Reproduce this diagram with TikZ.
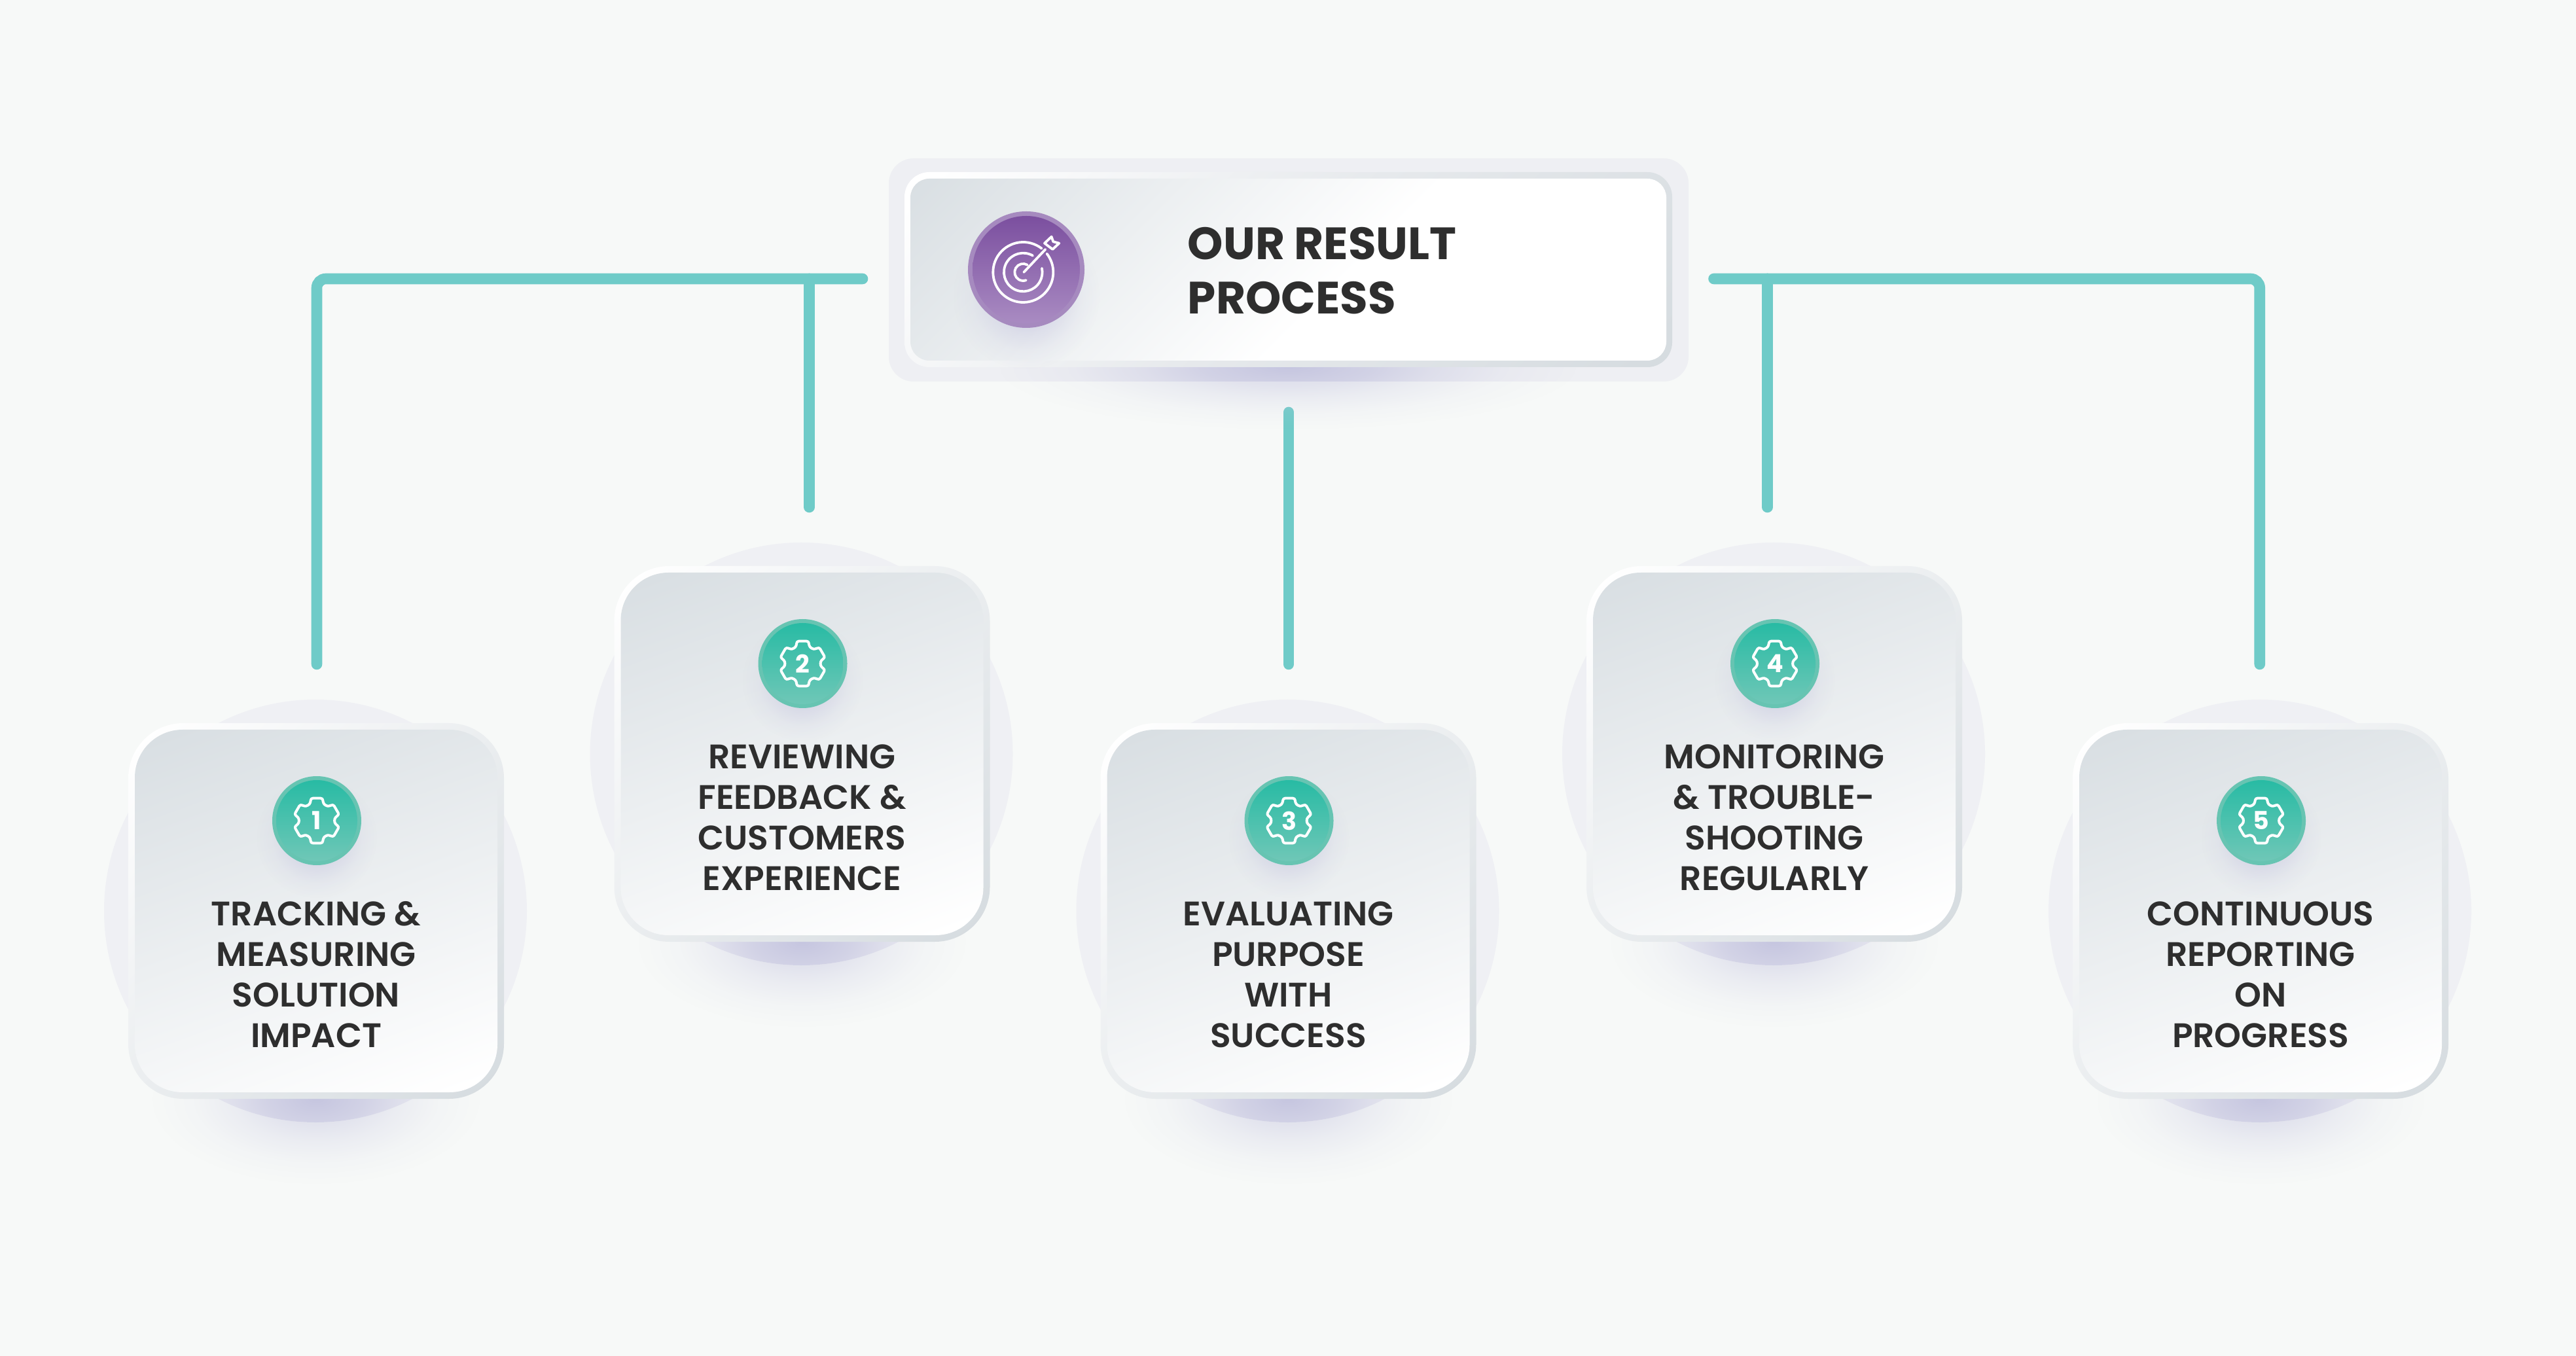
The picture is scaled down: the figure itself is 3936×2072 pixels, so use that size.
\documentclass[tikz,border=0pt]{standalone}
\usepackage{fontspec}
\usetikzlibrary{fadings}
\newfontfamily\cardfont{Poppins SemiBold}
\newfontfamily\titlefont{Poppins}[BoldFont=Poppins Bold]
\definecolor{bgc}{HTML}{F7F9F8}
\definecolor{diskc}{HTML}{EFF0F4}
\definecolor{shadowc}{HTML}{C6C6E0}
\definecolor{linec}{HTML}{6FCBC8}
\definecolor{txtc}{HTML}{2E2E2E}
\definecolor{panelc}{HTML}{EEEFF3}
\definecolor{rimteal}{HTML}{67C4B2}
\definecolor{rimpurple}{HTML}{A68ABF}
\definecolor{facelo}{HTML}{FFFFFF}
\definecolor{facehi}{HTML}{D9DFE3}
\definecolor{rimlo}{HTML}{D6DCE0}
\definecolor{rimhi}{HTML}{FFFFFF}
\definecolor{rimmid}{HTML}{E6E9EC}
\definecolor{teal1}{HTML}{28BBA4}
\definecolor{teal2}{HTML}{6FC7B7}
\definecolor{purp1}{HTML}{7B4F9F}
\definecolor{purp2}{HTML}{A98BC2}
\pgfdeclareradialshading{softradial}{\pgfpointorigin}{color(0bp)=(white); color(7.5bp)=(white!70!black); color(12.5bp)=(white!40!black); color(18.75bp)=(white!13!black); color(25bp)=(black); color(50bp)=(black)}
\pgfdeclarefading{softfade}{\pgfuseshading{softradial}}
\pgfdeclareverticalshading{facecard}{100bp}{color(0bp)=(facelo); color(20bp)=(facelo); color(80bp)=(facehi); color(100bp)=(facehi)}
\pgfdeclareverticalshading{rimcard}{100bp}{color(0bp)=(rimlo); color(17bp)=(rimlo); color(83bp)=(rimhi); color(100bp)=(rimhi)}
\pgfdeclareverticalshading{facehead}{100bp}{color(0bp)=(facelo); color(45bp)=(facelo); color(85bp)=(facehi); color(100bp)=(facehi)}
\pgfdeclareverticalshading{rimhead}{100bp}{color(0bp)=(rimlo); color(17bp)=(rimlo); color(50bp)=(rimmid); color(83bp)=(rimhi); color(100bp)=(rimhi)}
\tikzset{
  conn/.style={draw=linec, line width=4.15pt, line cap=round, rounded corners=3.5pt},
  softshadow/.style={fill=shadowc, path fading=softfade, draw=none},
  cardtext/.style={inner sep=0pt, align=center, text=txtc, font=\cardfont\fontsize{13}{15.5}\selectfont},
  gearnum/.style={inner sep=0pt, text=white, font=\titlefont\bfseries\fontsize{9.5}{10}\selectfont},
  gearline/.style={draw=white, line width=1pt, rounded corners=0.8pt, line join=round},
  iconline/.style={draw=white, line width=0.95pt, line cap=round, line join=round},
}
\newcommand{\resultcard}[4]{% x, y of card centre, number, text
  \fill[softshadow, fill opacity=0.6] (#1,#2+287) ellipse [x radius=250, y radius=130];
  \fill[diskc] (#1-1,#2) circle (323);
  \begin{scope}
    \clip (#1-1,#2) circle (323);
    \fill[softshadow] (#1,#2+287) ellipse [x radius=250, y radius=130];
  \end{scope}
  \path[shading=rimcard, shading angle=45, rounded corners=21pt] (#1-287,#2-287) rectangle (#1+287,#2+287);
  \path[shading=facecard, shading angle=20, rounded corners=18.25pt] (#1-277,#2-277) rectangle (#1+277,#2+277);
  \fill[softshadow] (#1+1,#2-138+26) circle (92);
  \fill[rimteal] (#1+1,#2-138) circle (68);
  \shade[top color=teal1, bottom color=teal2] (#1+1,#2-138) circle (62);
  \begin{scope}[shift={(#1+1,#2-138)}]
    \draw[gearline] (60:26.5) \foreach \a in {90,150,210,270,330} { -- (\a-19:29) -- (\a-15:35.5) -- (\a+15:35.5) -- (\a+19:29) -- (\a+30:26.5)} -- (371:29) -- (375:35.5) -- (405:35.5) -- (409:29) -- cycle;
  \end{scope}
  \node[gearnum] (num#3) at (#1+1,#2-138) {#3};
  \node[cardtext] (txt#3) at (#1,#2+97) {#4};
}
\begin{document}
\begin{tikzpicture}[x=0.25pt, y=-0.25pt]
\useasboundingbox (0,0) rectangle (3936,2072);
\fill[bgc] (0,0) rectangle (3936,2072);
% connector ends
\coordinate (hl) at (1318,426);
\coordinate (hr) at (2618.5,426);
\coordinate (e1) at (484,1015);
\coordinate (t2) at (1236.5,426);
\coordinate (e2) at (1236.5,775);
\coordinate (t3) at (1969,630);
\coordinate (e3) at (1969,1015);
\coordinate (t4) at (2700.5,426);
\coordinate (e4) at (2700.5,775);
\coordinate (e5) at (3452.7,1015);
% cards
\resultcard{483}{1392}{1}{TRACKING \&\\MEASURING\\SOLUTION\\IMPACT}
\resultcard{1225.5}{1152}{2}{REVIEWING\\FEEDBACK \&\\CUSTOMERS\\EXPERIENCE}
\resultcard{1968.5}{1392}{3}{EVALUATING\\PURPOSE\\WITH\\SUCCESS}
\resultcard{2711}{1152}{4}{MONITORING\\\& TROUBLE-\\SHOOTING\\REGULARLY}
\resultcard{3454}{1392}{5}{CONTINUOUS\\REPORTING\\ON\\PROGRESS}
% connectors
\draw[conn] (hl) -| (e1);
\draw[conn] (t2) -- (e2);
\draw[conn] (t3) -- (e3);
\draw[conn] (t4) -- (e4);
\draw[conn] (hr) -| (e5);
% header
\fill[softshadow, fill opacity=0.6] (1968,561) ellipse [x radius=440, y radius=95];
\fill[panelc, rounded corners=9.5pt] (1358,242) rectangle (2580,583);
\begin{scope}
  \clip[rounded corners=9.5pt] (1358,242) rectangle (2580,583);
  \fill[softshadow] (1968,561) ellipse [x radius=440, y radius=95];
\end{scope}
\path[shading=rimhead, shading angle=45, rounded corners=9.5pt] (1382,263) rectangle (2555,561);
\path[shading=facehead, shading angle=45, rounded corners=7.25pt] (1391,273) rectangle (2546,551);
\fill[softshadow] (1568,452) circle (112);
\fill[rimpurple] (1568,412) circle (89);
\shade[top color=purp1, bottom color=purp2] (1568,412) circle (82);
\begin{scope}[shift={(1563.3,416)}]
  \draw[iconline] (-52:46) arc[start angle=-52, end angle=-398, radius=46];
  \draw[iconline] (-60:29.3) arc[start angle=-60, end angle=-372, radius=29.3];
  \draw[iconline] (-60:13) arc[start angle=-60, end angle=-290, radius=13];
  \draw[iconline] (1,0) -- (34,-35);
  \draw[iconline] (32.7,-44.3) -- (43.3,-54.3) -- (46,-46.7) -- (55,-44.3) -- (45,-35) -- cycle;
\end{scope}
\node[inner sep=0pt, anchor=west, align=left, text=txtc, font=\titlefont\bfseries\fontsize{17.3}{20.8}\selectfont] (title) at (1814,414) {OUR RESULT\\PROCESS};
\end{tikzpicture}
\end{document}
